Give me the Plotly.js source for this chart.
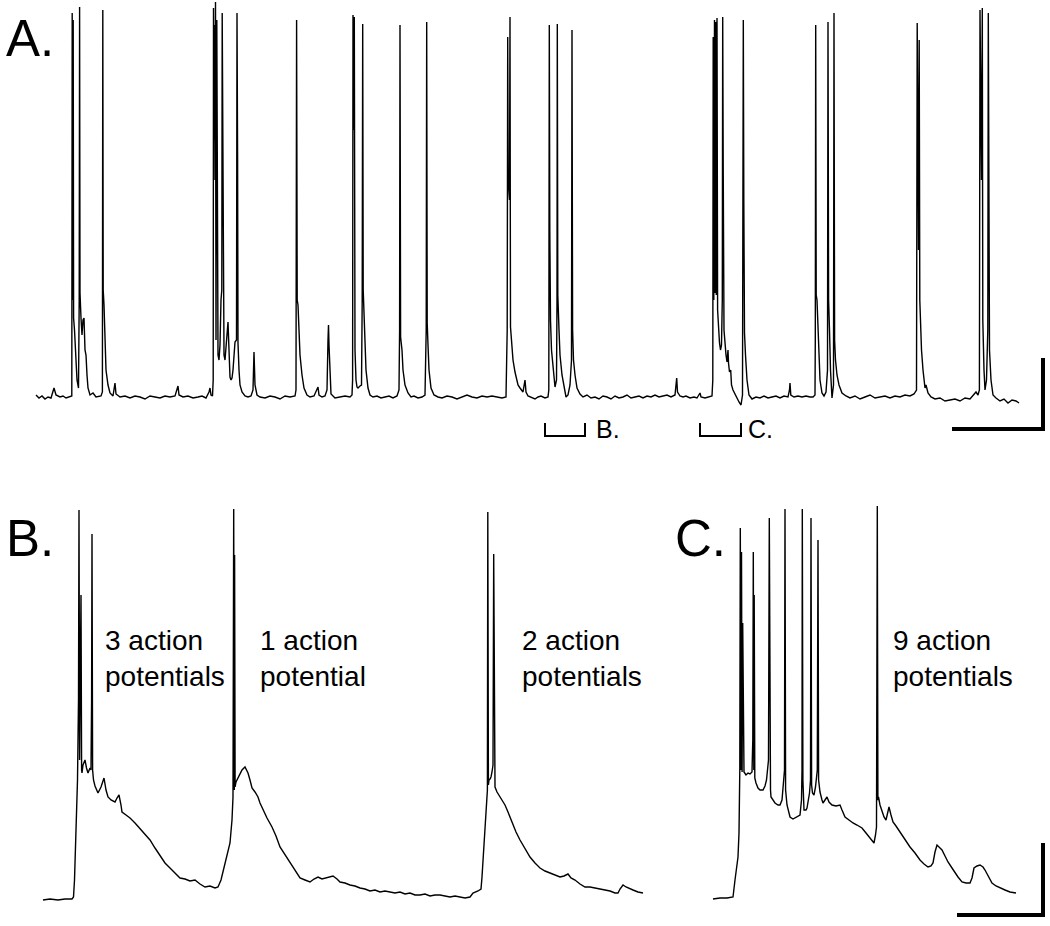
<!DOCTYPE html>
<html>
<head>
<meta charset="utf-8">
<script src="https://cdn.plot.ly/plotly-3.0.1.min.js"></script>
<style>html,body{margin:0;padding:0;background:#fff;}#chart{width:1050px;height:926px;}</style>
</head>
<body>
<div id="chart"></div>
<script>
// Panel A: long recording (time, membrane signal)
const tA = [36,39,42,45,48,51,54,56,60,63,66,69,71,
71.8,72.2,72.6,73.2,73.6,74.5,75.5,77,78.5,79.2,79.6,80,81,82,83,84,85,86,87,88,90,93,96,99,101,102.4,102.8,103.2,104,105,106,108,110,113,115,116,120,125,130,135,140,145,150,155,160,165,170,175,178,179,183,188,193,198,202,206,209,210,211,212.5,
213.2,213.5,214,214.5,215,215.5,216,216.8,217.3,218,219,220,221,221.8,222.2,222.7,223.3,224,225,226,227,228,229,230,231,232,233,234.5,235,236.5,237,237.6,238,239,240,242,245,248,251,253,254,255,257,260,265,270,275,280,285,290,295,296,296.6,297.2,298,299,300,302,304,307,310,314,317,318,319,322,325,327,328,328.5,329,330,331,335,340,345,350,352,
352.6,353,353.8,354.3,355,356,357,358,360,361.5,362.2,362.7,363.2,364,365,366,368,370,373,377,381,385,389,393,397,399,399.6,400,400.6,402,403,405,408,411,414,418,422,425,426.2,426.7,427.2,428,429,431,434,438,442,447,452,457,462,467,472,477,482,487,492,497,502,506,507.2,507.7,508.2,509.5,510,510.5,511.5,513,515,518,520,523,525,526,528,531,535,538,541,545,548,
548.8,549.3,549.8,550.5,551.5,553,555,556.5,557,557.3,557.8,559,560,562,564,566,568,570,571.5,572,572.6,573.5,575,577,580,583,587,591,595,599,603,607,611,615,619,623,627,631,635,639,643,647,651,655,659,663,667,671,675,676.7,677.5,680,683,686,690,694,697,700,701,705,709,712,
712.8,713.2,713.8,714.5,715,715.8,716.3,717,717.6,718.5,719.5,720.5,721.5,722.3,722.7,723.2,724,725,726,727,728,728.5,729.5,730.7,731.5,733,735,737,739,741,742.5,743.3,743.8,744.5,745.5,747,749,752,756,760,764,768,772,776,780,784,788,789.5,790,790.8,794,798,802,806,810,813,815,
815.3,815.7,816.2,817,818,819,820,822,824,826,827.5,828,828.6,829.5,830.5,832,833.5,834,834.6,835.5,837,839,842,846,850,855,860,865,870,875,880,885,890,895,900,905,910,914,916.5,917.2,917.7,918.5,919.2,919.8,920.5,921.5,923,925,926,928,931,935,940,945,950,955,960,965,970,974,976,978,979.4,980,980.6,981.5,982.3,982.8,984,985,986.5,987.8,988.3,988.8,989.5,991,993,996,1000,1004,1008,1012,1016,1019];
const vA = [395,398,396,399,397,398,388,395,397,396,398,397,396,
396,13,300,20,318,330,350,380,388,300,7,293,318,335,320,318,350,355,375,388,395,393,397,396,396,392,10,290,305,340,370,385,393,396,383,394,397,396,398,396,397,399,396,397,398,396,397,396,386,395,397,396,398,397,396,398,392,388,395,396,
380,8,140,25,180,2,340,20,345,355,360,345,300,290,13,147,310,355,360,345,330,322,350,377,380,378,370,345,342,340,13,160,343,370,385,392,396,397,396,390,352,385,395,397,398,396,397,399,396,397,396,390,20,300,305,330,355,375,388,395,397,396,390,387,395,397,396,390,340,325,345,380,394,398,397,396,397,395,
380,15,130,17,350,380,387,388,386,385,300,24,290,320,350,370,388,395,397,396,398,397,396,398,396,390,330,25,337,350,370,385,393,397,396,398,397,395,330,22,323,345,370,388,395,397,398,396,397,399,397,395,397,398,396,397,396,397,398,397,330,37,180,200,17,327,345,360,372,385,388,392,380,392,396,397,399,397,396,398,397,
390,25,230,320,350,370,387,380,300,24,295,330,355,375,385,397,395,385,360,30,330,360,375,388,394,397,395,398,397,399,396,397,399,396,398,397,395,398,397,396,398,396,397,395,397,396,395,397,395,378,392,396,397,396,398,397,398,393,397,398,397,396,
380,37,300,20,293,22,295,18,310,330,343,350,345,300,17,165,330,345,355,362,350,363,372,370,385,390,395,398,402,405,395,20,200,333,355,380,395,399,397,398,396,398,397,396,398,396,397,390,383,395,397,396,397,396,397,397,395,
340,25,295,300,330,360,380,393,396,392,370,22,300,330,370,398,385,13,340,360,375,385,393,396,398,396,399,397,395,398,397,396,398,396,397,395,396,394,390,23,100,250,40,300,330,350,370,388,385,393,397,399,398,401,400,399,401,398,399,395,392,395,390,10,140,180,8,320,370,390,380,330,13,300,350,380,395,398,401,399,403,400,401,403];

// Panel B: expanded view of bracket B
const tB = [43,50,58,65,72,73.5,74.5,75.5,76.5,77.5,78.5,79,79.6,80.5,81,81.6,82,83,85,86.5,88,90,91,91.6,92,92.6,93.5,95,98,101,104,106,108,111,115,117,119,121,122,126,130,135,140,145,150,155,160,165,170,175,180,185,190,195,200,205,210,215,218,221,225,228,230,232,233,233.7,234.3,234.6,235.1,236,238,240,242,245,247,248,250,252,255,258,260,263,267,272,276,280,285,290,295,300,305,310,314,318,322,325,329,333,337,340,345,350,355,360,365,370,375,380,385,390,395,400,405,410,415,420,425,430,435,440,445,450,455,460,465,470,473,478,481,482,483,484,485,486,487.4,487.8,488.4,489,490,491,492,493,493.7,494.4,495,497,500,503,505,508,512,516,520,525,530,535,540,545,550,555,560,564,568,571,575,580,585,590,595,600,605,610,615,618,620,623,626,628,633,638,643];
const vB = [900,899,900,899,899,897,880,847,815,780,700,510,760,637,595,770,773,765,760,768,773,768,770,700,534,770,780,786,793,787,778,790,797,800,802,798,795,805,812,815,818,823,829,835,840,848,856,863,868,873,878,879,881,880,884,887,886,888,887,880,863,853,843,820,797,509,790,555,787,782,778,775,770,767,771,773,780,788,792,797,803,810,818,827,836,847,855,863,871,878,880,882,879,877,879,878,877,876,879,882,883,885,886,888,889,891,890,892,891,892,893,892,894,893,895,895,894,896,895,895,896,897,896,897,898,897,893,891,889,877,862,847,830,810,790,512,785,780,779,777,772,765,554,770,787,792,797,802,805,812,823,832,840,848,857,863,868,871,873,875,877,876,874,878,880,884,887,887,888,889,890,891,893,893,889,885,887,888,890,892,893];

// Panel C: expanded view of bracket C
const tC = [713,720,727,733,735,737,738,739,739.8,740.3,740.9,741.5,742.1,742.7,743.3,744,746,748,750,752,752.8,753.3,753.8,754.2,754.8,756,758,760,763,765,766.5,768.5,769.3,769.9,770.5,771,773,775,778,780,782,783,784.5,785,785.6,787,788.5,790,793,795,798,800,801.5,802,802.3,802.9,804,806,807,808.5,809.5,810.5,811,811.6,812.5,814,815.5,817.3,818,818.6,820,822,823,825,827,829,832,836,840,842,845,849,853,857,862,866,870,874,875.5,876.5,877.3,877.9,878.5,880,882,884,886,888,889,891,893,896,900,905,910,915,920,924,928,931,933,935,937,940,942,945,948,952,955,958,962,966,970,972,974,977,980,983,985,988,992,996,1000,1005,1010,1016];
const vC = [899,898,898,897,880,865,857,833,770,528,770,552,772,623,772,772,775,773,774,772,740,552,770,595,778,783,788,790,790,786,780,760,518,770,790,797,800,803,805,805,800,783,770,509,790,805,812,817,819,818,816,815,800,770,509,780,810,810,808,800,793,780,518,785,793,795,787,770,540,780,792,800,803,800,797,802,805,806,805,810,817,820,823,825,828,833,838,843,835,827,506,800,797,805,812,817,820,812,807,815,822,826,832,840,847,853,860,864,867,866,863,852,845,848,850,856,862,868,873,877,882,883,883,878,868,866,865,867,870,876,883,886,888,890,892,893];

// Scale bars and brackets
const scaleAx = [1043,1043,952];
const scaleAy = [358,429,429];
const scaleCx = [1043,1043,957];
const scaleCy = [843,915,915];
const brB_x = [545,545,585,585];
const brB_y = [423,436,436,423];
const brC_x = [700,700,741,741];
const brC_y = [423,436,436,423];

const panelLabels = ["A.","B.","C."];
const panelLabelX = [4,4,673];
const panelLabelY = [38,538,538];
const notes = ["3 action<br>potentials","1 action<br>potential","2 action<br>potentials","9 action<br>potentials"];
const noteX = [103,258,520,891];
const noteY = [658,658,658,658];
const bracketLabels = ["B.","C."];
const bracketLabelX = [594,746];
const bracketLabelY = [429,429];

const lineStyle = {color:'#000', width:1.4};
const traces = [
  {x:tA, y:vA, mode:'lines', line:lineStyle, hoverinfo:'skip'},
  {x:tB, y:vB, mode:'lines', line:lineStyle, hoverinfo:'skip'},
  {x:tC, y:vC, mode:'lines', line:lineStyle, hoverinfo:'skip'},
  {x:scaleAx, y:scaleAy, mode:'lines', line:{color:'#000', width:4}, hoverinfo:'skip'},
  {x:scaleCx, y:scaleCy, mode:'lines', line:{color:'#000', width:4}, hoverinfo:'skip'},
  {x:brB_x, y:brB_y, mode:'lines', line:{color:'#000', width:2}, hoverinfo:'skip'},
  {x:brC_x, y:brC_y, mode:'lines', line:{color:'#000', width:2}, hoverinfo:'skip'}
];

const font = 'Liberation Sans, Arial, sans-serif';
const annotations = [];
panelLabels.forEach((t,i)=>annotations.push({text:t, x:panelLabelX[i], y:panelLabelY[i], xref:'x', yref:'y', xanchor:'left', yanchor:'middle', showarrow:false, font:{family:font, size:51, color:'#000'}}));
notes.forEach((t,i)=>annotations.push({text:t, x:noteX[i], y:noteY[i], xref:'x', yref:'y', xanchor:'left', yanchor:'middle', align:'left', showarrow:false, font:{family:font, size:28, color:'#000'}}));
bracketLabels.forEach((t,i)=>annotations.push({text:t, x:bracketLabelX[i], y:bracketLabelY[i], xref:'x', yref:'y', xanchor:'left', yanchor:'middle', showarrow:false, font:{family:font, size:25, color:'#000'}}));

const layout = {
  width:1050, height:926,
  margin:{l:0,r:0,t:0,b:0},
  paper_bgcolor:'#fff', plot_bgcolor:'#fff',
  showlegend:false,
  xaxis:{range:[0,1050], visible:false, showgrid:false, zeroline:false, fixedrange:true},
  yaxis:{range:[926,0], visible:false, showgrid:false, zeroline:false, fixedrange:true},
  annotations:annotations
};
Plotly.newPlot('chart', traces, layout, {staticPlot:true, displayModeBar:false});
</script>
</body>
</html>
